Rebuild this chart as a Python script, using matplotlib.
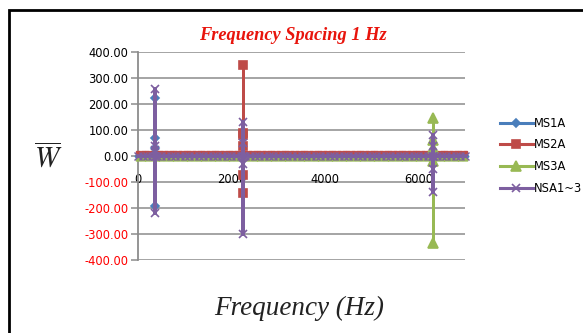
import numpy as np
import matplotlib
matplotlib.use("Agg")
import matplotlib.pyplot as plt
from matplotlib.lines import Line2D
from matplotlib.patches import Rectangle

# Frequency grid of the flat background response (Hz)
baseline_hz = np.arange(0, 7001, 100)

# Background level of each series
ms1a_level = 0.0
ms2a_level = 10.0
ms3a_level = -9.0
nsa_level = 0.0

# Resonance peaks: frequency (Hz) and the values recorded there
ms1a_peak_hz = 365
ms1a_peak_vals = [0, 225, 70, 30, 10, -192, 0]

ms2a_peak_hz = 2258
ms2a_peak_vals = [10, 350, 90, 80, 40, -73, -142, 10]

ms3a_peak_hz = 6320
ms3a_peak_vals = [-9, 146, 60, 30, -20, -335, -9]

nsa_peaks_hz = [365, 2258, 6320]
nsa_peaks_vals = [[0, 258, 40, 25, -219, 0],
                  [0, 131, 50, -30, -300, 0],
                  [0, 80, 40, -50, -138, 0]]

series_names = ["MS1A", "MS2A", "MS3A", "NSA1~3"]
colors = ["#4A7EBB", "#BE4B48", "#98B954", "#7D5FA0"]
markers = ["D", "s", "^", "x"]
msizes = [4.5, 6, 6.5, 6]
base_msizes = [3.5, 3.0, 3.5, 5.5]
line_widths = [2.0, 1.8, 2.0, 2.6]

y_ticks = [400, 300, 200, 100, 0, -100, -200, -300, -400]
x_ticks = [0, 2000, 4000, 6000]


def build(level, peaks):
    """Splice the peak values into the flat background trace."""
    xs, ys = [], []
    peaks = sorted(peaks, key=lambda p: p[0])
    remaining = list(baseline_hz)
    for hz, vals in peaks:
        before = [f for f in remaining if f < hz]
        xs += before
        ys += [level] * len(before)
        xs += [hz] * len(vals)
        ys += vals
        remaining = [f for f in remaining if f > hz]
    xs += remaining
    ys += [level] * len(remaining)
    return np.array(xs, dtype=float), np.array(ys, dtype=float)


levels = [ms1a_level, ms2a_level, ms3a_level, nsa_level]
traces = [
    build(ms1a_level, [(ms1a_peak_hz, ms1a_peak_vals)]),
    build(ms2a_level, [(ms2a_peak_hz, ms2a_peak_vals)]),
    build(ms3a_level, [(ms3a_peak_hz, ms3a_peak_vals)]),
    build(nsa_level, list(zip(nsa_peaks_hz, nsa_peaks_vals))),
]

fig = plt.figure(figsize=(5.83, 3.33), dpi=100)
ax = fig.add_axes([138 / 583, 1 - 260 / 333, (465 - 138) / 583, (260 - 52) / 333])

for y in y_ticks:
    ax.axhline(y, color="#8C8C8C", lw=1.1, zorder=0)

for (xs, ys), lev, c, m, ms, bms, lw in zip(traces, levels, colors, markers,
                                             msizes, base_msizes, line_widths):
    ax.plot(xs, ys, color=c, lw=lw, zorder=3, clip_on=False)
    on_base = ys == lev
    ax.plot(xs[on_base], ys[on_base], ls="none", marker=m, ms=bms, mec=c,
            mfc=c, mew=1.0, zorder=3, clip_on=False)
    ax.plot(xs[~on_base], ys[~on_base], ls="none", marker=m, ms=ms, mec=c,
            mfc=c, mew=1.2, zorder=3, clip_on=False)

ax.set_xlim(0, 7000)
ax.set_ylim(-400, 400)
ax.set_yticks(y_ticks)
ax.set_yticklabels([f"{v:.2f}" for v in y_ticks])
for lab, v in zip(ax.get_yticklabels(), y_ticks):
    lab.set_color("red" if v < 0 else "black")
ax.set_xticks(x_ticks)
ax.set_xticklabels([str(v) for v in x_ticks])

for s in ["top", "right"]:
    ax.spines[s].set_visible(False)
ax.spines["bottom"].set_position(("data", 0))
ax.spines["bottom"].set_visible(False)
ax.spines["left"].set_color("#8C8C8C")
ax.spines["left"].set_linewidth(1.3)
ax.tick_params(axis="y", length=5, width=1.1, color="#8C8C8C",
               labelsize=8.3, pad=2)
ax.tick_params(axis="x", length=0, labelsize=8.3, pad=12)

fig.text(293 / 583, 1 - 36 / 333, "Frequency Spacing 1 Hz", color="#E8140C",
         fontsize=13.2, fontweight="bold", fontstyle="italic",
         family="Liberation Serif", ha="center", va="center")

plt.rcParams["mathtext.fontset"] = "stix"
fig.text(48 / 583, 1 - 157 / 333, r"$\overline{W}$", fontsize=21,
         color="#222222", ha="center", va="center")

fig.text(299 / 583, 1 - 308 / 333, "Frequency (Hz)", fontsize=19.5,
         fontstyle="italic", family="Liberation Serif", color="#222222",
         ha="center", va="center")

handles = [Line2D([], [], color=c, lw=2.2, marker=m, ms=ms, mec=c, mfc=c, mew=1.2)
           for c, m, ms in zip(colors, markers, msizes)]
fig.legend(handles, series_names, loc="upper left",
           bbox_to_anchor=(494 / 583, 1 - 111 / 333), frameon=False,
           fontsize=8.3, handlelength=2.9, handletextpad=0.05,
           labelspacing=0.75, borderpad=0)

# Outer frame of the chart
fig.add_artist(Rectangle((9 / 583, -0.1), 1.2, 1 - 10 / 333 + 0.1,
                         transform=fig.transFigure, fill=False,
                         edgecolor="black", lw=2.0))

fig.savefig("out.png", dpi=100)
